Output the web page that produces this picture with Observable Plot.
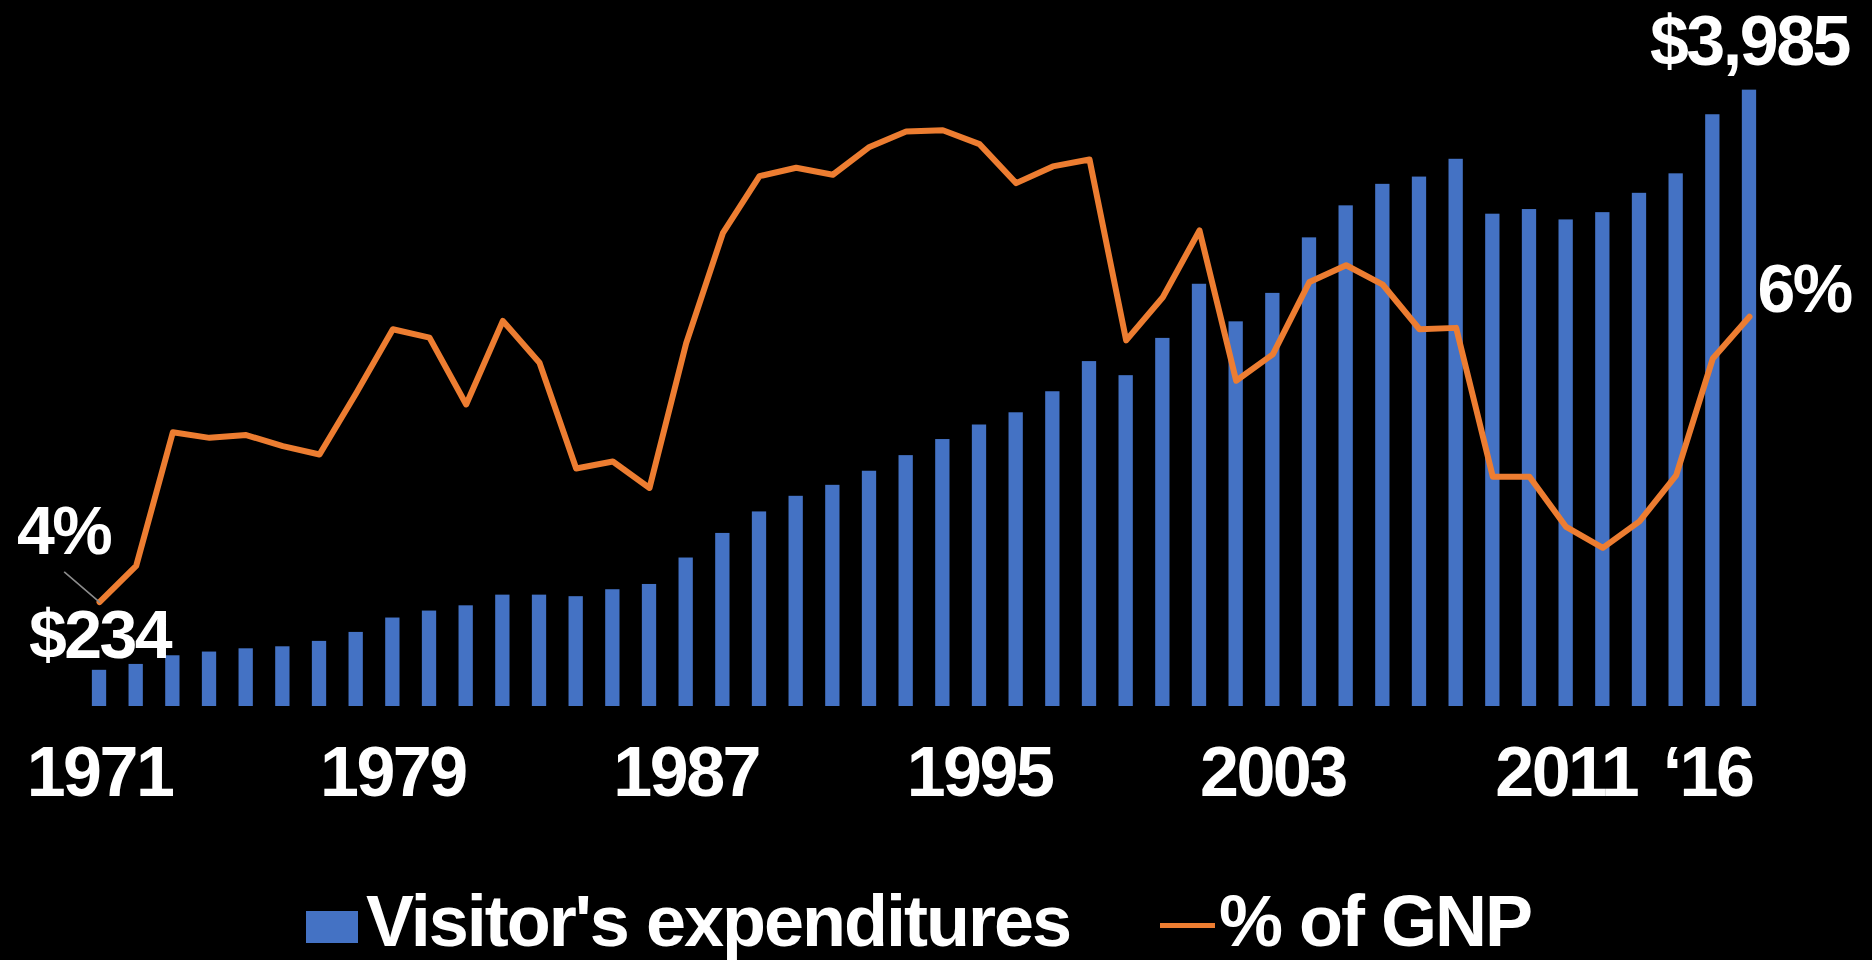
<!DOCTYPE html>
<html>
<head>
<meta charset="utf-8">
<script src="https://cdn.jsdelivr.net/npm/d3@7"></script>
<script src="https://cdn.jsdelivr.net/npm/@observablehq/plot@0.6"></script>
<style>
  html, body { margin: 0; padding: 0; background: #000; }
  body { width: 1872px; height: 960px; overflow: hidden; position: relative;
         font-family: "Liberation Sans", Arial, Helvetica, sans-serif; font-weight: bold; color: #fff; }
  #chart svg text { letter-spacing: -2.5px; }
  #legend { position: absolute; left: 0; top: 0; width: 1872px; height: 960px; pointer-events: none; }
  #legend .sw { position: absolute; }
  #legend .lab { position: absolute; font-size: 72px; line-height: 1; letter-spacing: -2px; white-space: nowrap; color: #fff; }
</style>
</head>
<body>
<div id="chart"></div>
<div id="legend"></div>
<script>
// ---- data ----
const years = [1971, 1972, 1973, 1974, 1975, 1976, 1977, 1978, 1979, 1980,
               1981, 1982, 1983, 1984, 1985, 1986, 1987, 1988, 1989, 1990,
               1991, 1992, 1993, 1994, 1995, 1996, 1997, 1998, 1999, 2000,
               2001, 2002, 2003, 2004, 2005, 2006, 2007, 2008, 2009, 2010,
               2011, 2012, 2013, 2014, 2015, 2016];
// Visitor's expenditures (US$ millions)
const expenditures = [234, 272, 328, 352, 373, 386, 421, 479, 572, 617,
                      651, 720, 720, 710, 755, 789, 960, 1119, 1258, 1359,
                      1430, 1521, 1622, 1726, 1820, 1899, 2035, 2230, 2139, 2380,
                      2730, 2487, 2671, 3030, 3237, 3376, 3423, 3538, 3183, 3213,
                      3146, 3193, 3318, 3444, 3826, 3985];
// Visitor's expenditures as % of GNP
const gnpPct = [3.75, 4.01, 4.97, 4.93, 4.95, 4.87, 4.81, 5.25, 5.71, 5.65,
                5.17, 5.77, 5.47, 4.71, 4.76, 4.57, 5.61, 6.40, 6.81, 6.87,
                6.82, 7.02, 7.13, 7.14, 7.04, 6.76, 6.88, 6.93, 5.63, 5.94,
                6.42, 5.34, 5.53, 6.05, 6.17, 6.03, 5.71, 5.72, 4.65, 4.65,
                4.29, 4.14, 4.33, 4.66, 5.50, 5.80];
const tickYears = [1971, 1979, 1987, 1995, 2003, 2011];
const lastTickYear = 2016;
const lastTickLabel = "\u201816";
const seriesNames = ["Visitor's expenditures", "% of GNP"];
// axis ranges (primary $ axis, secondary % axis)
const expDomain = [0, 4500];
const pctDomain = [3, 8];

const BLUE = "#4472C4";
const ORANGE = "#ED7D31";

// ---- table ----
const toPrimary = p => (p - pctDomain[0]) / (pctDomain[1] - pctDomain[0]) * (expDomain[1] - expDomain[0]) + expDomain[0];
const rows = years.map((year, i) => ({year, exp: expenditures[i], pct: gnpPct[i], yLine: toPrimary(gnpPct[i])}));
const first = [rows[0]];
const last = [rows[rows.length - 1]];

const fmtMoney = d3.format("$,");
const font = {fontSize: 70, fontWeight: "bold", fill: "white"};

const plot = Plot.plot({
  width: 1872,
  height: 830,
  marginTop: 10,
  marginBottom: 124,
  marginLeft: 69.5,
  marginRight: 93.5,
  style: {background: "black", color: "white", fontFamily: '"Liberation Sans", Arial, Helvetica, sans-serif', overflow: "visible"},
  x: {type: "band", domain: years, padding: 0.61, round: false, label: null},
  y: {domain: expDomain, axis: null, label: null},
  marks: [
    Plot.barY(rows, {x: "year", y: "exp", fill: BLUE}),
    Plot.line(rows, {x: "year", y: "yLine", stroke: ORANGE, strokeWidth: 6, strokeLinejoin: "round", strokeLinecap: "round"}),
    Plot.vector(first, {x: "year", y: "yLine", length: 46, rotate: -49.5, anchor: "start", stroke: "#8c8c8c", strokeWidth: 1.6,
      shape: {draw(context, l) { context.moveTo(0, 0); context.lineTo(0, -l); }}}),
    Plot.axisX({ticks: tickYears, tickSize: 0, tickPadding: 40, label: null, tickFormat: d => String(d), ...font}),
    Plot.axisX({ticks: [lastTickYear], tickSize: 0, tickPadding: 40, label: null, tickFormat: () => lastTickLabel, textAnchor: "end", dx: 3, ...font}),
    Plot.text(first, {x: "year", y: "exp", text: d => fmtMoney(d.exp), lineAnchor: "bottom", dy: -12, ...font, fontSize: 68}),
    Plot.text(last, {x: "year", y: "exp", text: d => fmtMoney(d.exp), lineAnchor: "bottom", dy: -25, ...font}),
    Plot.text(first, {x: "year", y: "yLine", text: d => Math.round(d.pct) + "%", lineAnchor: "bottom", textAnchor: "middle", dx: -36, dy: -48, ...font, fontSize: 68}),
    Plot.text(last, {x: "year", y: "yLine", text: d => Math.round(d.pct) + "%", lineAnchor: "bottom", textAnchor: "start", dx: 8, dy: -5, ...font, fontSize: 68})
  ]
});
document.getElementById("chart").appendChild(plot);

// ---- legend (HTML below the SVG) ----
const legend = document.getElementById("legend");
function add(cls, style, text) {
  const el = document.createElement("div");
  el.className = cls;
  Object.assign(el.style, style);
  if (text) el.textContent = text;
  legend.appendChild(el);
}
add("sw", {left: "306px", top: "911px", width: "52px", height: "32px", background: BLUE});
add("lab", {left: "366px", top: "885px"}, seriesNames[0]);
add("sw", {left: "1160px", top: "923px", width: "55px", height: "5px", background: ORANGE});
add("lab", {left: "1219px", top: "885px"}, seriesNames[1]);
</script>
</body>
</html>
